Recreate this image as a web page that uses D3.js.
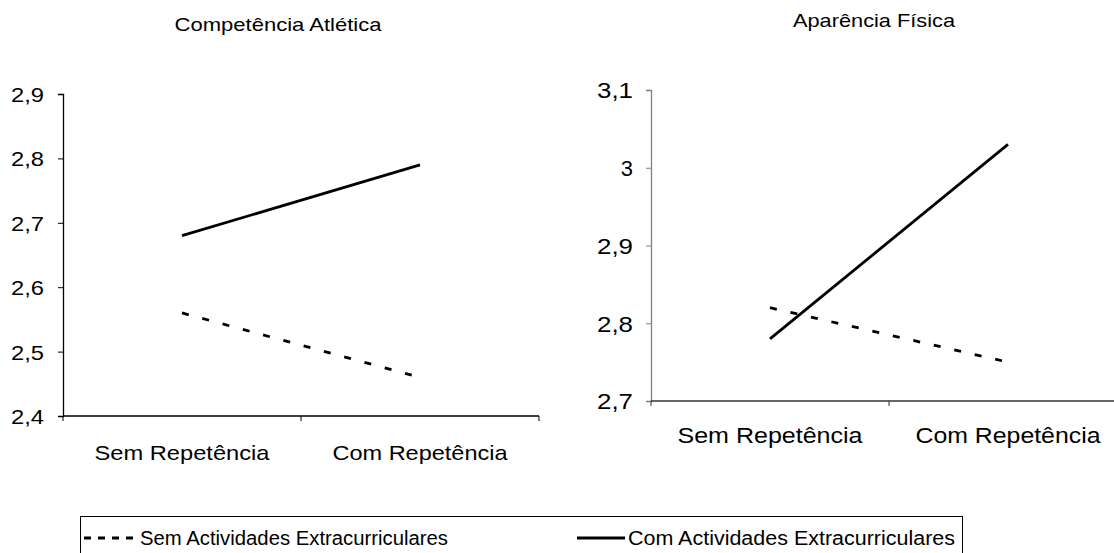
<!DOCTYPE html>
<html>
<head>
<meta charset="utf-8">
<script src="https://cdn.jsdelivr.net/npm/d3@7"></script>
<style>
body { margin: 0; background: #fff; }
text { font-family: "Liberation Sans", Arial, sans-serif; fill: #000; }
</style>
</head>
<body>
<script>
let width = 1114;
let height = 553;

// data
let categories = ["Sem Repetência", "Com Repetência"];
let seriesNames = ["Sem Actividades Extracurriculares", "Com Actividades Extracurriculares"];

let atleticaSem = [2.56, 2.46];
let atleticaCom = [2.68, 2.79];
let atleticaTicks = [2.4, 2.5, 2.6, 2.7, 2.8, 2.9];

let fisicaSem = [2.82, 2.75];
let fisicaCom = [2.78, 3.03];
let fisicaTicks = [2.7, 2.8, 2.9, 3.0, 3.1];

let svg = d3.select("body").append("svg").attr("width", width).attr("height", height);

let commaFmt = (d) => String(+d.toFixed(1)).replace(".", ",");

let dashes = "7,14";

let drawPanel = (p) => {
  let g = svg.append("g");
  let x = d3.scaleBand().domain(categories).range([p.left, p.right]);
  let y = d3.scaleLinear().domain(d3.extent(p.ticks)).range([p.bottom, p.top]);

  // y axis
  let yAxis = g.append("g").attr("transform", "translate(" + p.left + ",0)")
    .call(d3.axisLeft(y).tickValues(p.ticks).tickFormat(commaFmt).tickSize(5).tickPadding(p.tickPad));
  yAxis.select(".domain").attr("stroke", p.yColor).attr("stroke-width", 1.3);
  yAxis.selectAll(".tick line").attr("stroke", p.yColor);
  yAxis.selectAll(".tick text").style("font-size", p.tickFont + "px").attr("dy", "0.36em")
    .attr("textLength", (d) => commaFmt(d).length === 1 ? null : p.tickLen)
    .attr("lengthAdjust", "spacingAndGlyphs");

  // x axis line with separator ticks at band edges
  let xa = g.append("g");
  xa.append("line").attr("x1", p.left).attr("x2", p.right)
    .attr("y1", p.bottom).attr("y2", p.bottom).attr("stroke", p.xColor).attr("stroke-width", 1.3);
  let edges = [x.range()[0]].concat(categories.map((c) => x(c) + x.bandwidth()));
  xa.selectAll(".sep").data(edges).enter().append("line").attr("class", "sep")
    .attr("x1", (d) => d).attr("x2", (d) => d)
    .attr("y1", p.bottom).attr("y2", p.bottom + 5).attr("stroke", p.xColor);
  xa.selectAll(".cat").data(categories).enter().append("text").attr("class", "cat")
    .attr("x", (d) => x(d) + x.bandwidth() / 2)
    .attr("y", p.bottom + p.catOffset)
    .attr("text-anchor", "middle")
    .style("font-size", p.catFont + "px")
    .attr("textLength", p.catLen).attr("lengthAdjust", "spacingAndGlyphs")
    .text((d) => d);

  // title
  g.append("text").attr("x", p.titleX).attr("y", p.titleY).attr("text-anchor", "middle")
    .style("font-size", p.titleFont + "px")
    .attr("textLength", p.titleLen).attr("lengthAdjust", "spacingAndGlyphs")
    .text(p.title);

  // series lines
  let line = d3.line().x((d, i) => x(categories[i]) + x.bandwidth() / 2).y((d) => y(d));
  g.append("path").datum(p.sem).attr("d", line).attr("fill", "none")
    .attr("stroke", "#000").attr("stroke-width", 2.8).attr("stroke-dasharray", dashes);
  g.append("path").datum(p.com).attr("d", line).attr("fill", "none")
    .attr("stroke", "#000").attr("stroke-width", 2.8);
};

drawPanel({
  title: "Competência Atlética", sem: atleticaSem, com: atleticaCom, ticks: atleticaTicks,
  left: 63, right: 539, top: 94, bottom: 416,
  tickPad: 14, tickFont: 21, tickLen: 33,
  catOffset: 44, catFont: 21, catLen: 175,
  titleX: 278, titleY: 31, titleFont: 19, titleLen: 207,
  yColor: "#000", xColor: "#000"
});

drawPanel({
  title: "Aparência Física", sem: fisicaSem, com: fisicaCom, ticks: fisicaTicks,
  left: 651, right: 1127, top: 90, bottom: 401,
  tickPad: 13, tickFont: 22, tickLen: 36,
  catOffset: 42, catFont: 22, catLen: 185,
  titleX: 874, titleY: 27, titleFont: 19, titleLen: 162,
  yColor: "#808080", xColor: "#333"
});

// legend
let legend = svg.append("g");
legend.append("rect").attr("x", 80.5).attr("y", 516.5).attr("width", 882).attr("height", 70)
  .attr("fill", "none").attr("stroke", "#000");
let legendItems = [
  {name: seriesNames[0], x0: 84, x1: 136, tx: 140, len: 308, dash: "7,7"},
  {name: seriesNames[1], x0: 577, x1: 625, tx: 628, len: 327, dash: null}
];
let li = legend.selectAll(".item").data(legendItems).enter().append("g").attr("class", "item");
li.append("line").attr("x1", (d) => d.x0).attr("x2", (d) => d.x1).attr("y1", 538).attr("y2", 538)
  .attr("stroke", "#000").attr("stroke-width", 2.8).attr("stroke-dasharray", (d) => d.dash);
li.append("text").attr("x", (d) => d.tx).attr("y", 545).style("font-size", "20px")
  .attr("textLength", (d) => d.len).attr("lengthAdjust", "spacingAndGlyphs")
  .text((d) => d.name);
</script>
</body>
</html>
